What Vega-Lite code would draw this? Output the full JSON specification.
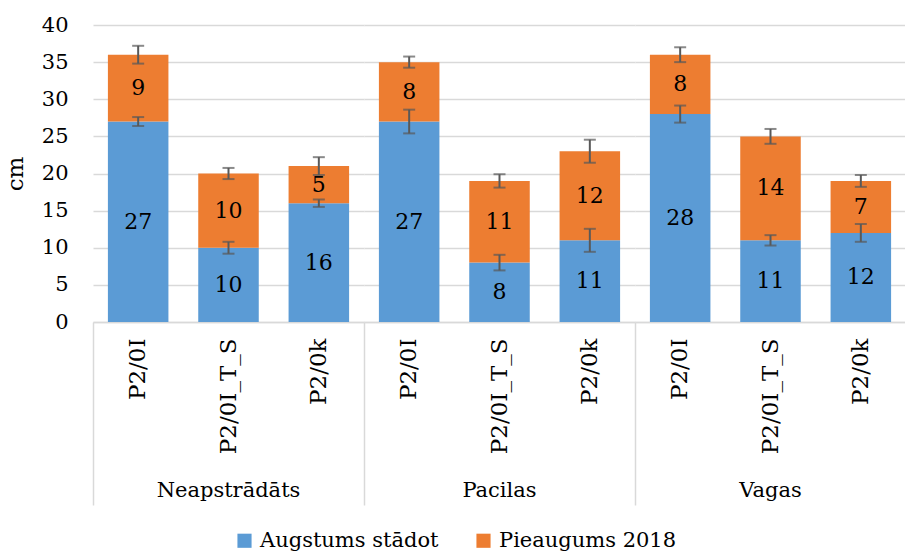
{
  "$schema": "https://vega.github.io/schema/vega-lite/v6.json",
  "padding": {"left": 4, "top": 14, "right": 0, "bottom": 0},
  "background": "white",
  "config": {
    "view": {"stroke": null},
    "font": "DejaVu Serif",
    "legend": {"layout": {"bottom": {"anchor": "middle"}}}
  },
  "data": {
    "values": [
      {"group": "Neapstrādāts", "cat": "P2/0I", "series": "Augstums stādot", "value": 27, "err": 0.6},
      {"group": "Neapstrādāts", "cat": "P2/0I", "series": "Pieaugums 2018", "value": 9, "err": 1.2},
      {"group": "Neapstrādāts", "cat": "P2/0I_T_S", "series": "Augstums stādot", "value": 10, "err": 0.8},
      {"group": "Neapstrādāts", "cat": "P2/0I_T_S", "series": "Pieaugums 2018", "value": 10, "err": 0.75},
      {"group": "Neapstrādāts", "cat": "P2/0k", "series": "Augstums stādot", "value": 16, "err": 0.5},
      {"group": "Neapstrādāts", "cat": "P2/0k", "series": "Pieaugums 2018", "value": 5, "err": 1.2},
      {"group": "Pacilas", "cat": "P2/0I", "series": "Augstums stādot", "value": 27, "err": 1.6},
      {"group": "Pacilas", "cat": "P2/0I", "series": "Pieaugums 2018", "value": 8, "err": 0.75},
      {"group": "Pacilas", "cat": "P2/0I_T_S", "series": "Augstums stādot", "value": 8, "err": 1.05},
      {"group": "Pacilas", "cat": "P2/0I_T_S", "series": "Pieaugums 2018", "value": 11, "err": 0.9},
      {"group": "Pacilas", "cat": "P2/0k", "series": "Augstums stādot", "value": 11, "err": 1.55},
      {"group": "Pacilas", "cat": "P2/0k", "series": "Pieaugums 2018", "value": 12, "err": 1.55},
      {"group": "Vagas", "cat": "P2/0I", "series": "Augstums stādot", "value": 28, "err": 1.15},
      {"group": "Vagas", "cat": "P2/0I", "series": "Pieaugums 2018", "value": 8, "err": 1.0},
      {"group": "Vagas", "cat": "P2/0I_T_S", "series": "Augstums stādot", "value": 11, "err": 0.7},
      {"group": "Vagas", "cat": "P2/0I_T_S", "series": "Pieaugums 2018", "value": 14, "err": 1.0},
      {"group": "Vagas", "cat": "P2/0k", "series": "Augstums stādot", "value": 12, "err": 1.2},
      {"group": "Vagas", "cat": "P2/0k", "series": "Pieaugums 2018", "value": 7, "err": 0.8}
    ]
  },
  "facet": {
    "column": {
      "field": "group",
      "type": "nominal",
      "sort": ["Neapstrādāts", "Pacilas", "Vagas"],
      "title": null,
      "header": {
        "labelOrient": "bottom",
        "labelFont": "DejaVu Serif",
        "labelFontSize": 21,
        "labelColor": "#000000",
        "labelPadding": -26
      }
    }
  },
  "spacing": 0,
  "spec": {
    "width": 271,
    "height": 297,
    "encoding": {
      "x": {
        "field": "cat",
        "type": "nominal",
        "sort": ["P2/0I", "P2/0I_T_S", "P2/0k"],
        "title": null,
        "scale": {"paddingInner": 0, "paddingOuter": 0},
        "axis": {
          "labelAngle": -90,
          "labelFont": "DejaVu Serif",
          "labelFontSize": 23,
          "labelColor": "#000000",
          "labelPadding": -167,
          "labelOverlap": false,
          "labelBound": false,
          "bandPosition": 0,
          "tickSize": 183,
          "tickWidth": 1.5,
          "tickColor": {"condition": {"test": "datum.value === 'P2/0I'", "value": "#d9d9d9"}, "value": "transparent"},
          "domainColor": "#d9d9d9",
          "domainWidth": 1.5
        }
      }
    },
    "layer": [
      {
        "mark": {"type": "bar", "width": {"band": 0.67}},
        "encoding": {
          "y": {
            "field": "value",
            "type": "quantitative",
            "stack": "zero",
            "scale": {"domain": [0, 40]},
            "title": "cm",
            "axis": {
              "values": [0, 5, 10, 15, 20, 25, 30, 35, 40],
              "grid": true,
              "gridColor": "#d9d9d9",
              "gridWidth": 1.5,
              "domain": false,
              "ticks": false,
              "labelFont": "DejaVu Serif",
              "labelFontSize": 21,
              "labelColor": "#000000",
              "labelPadding": 25,
              "titleFont": "DejaVu Serif",
              "titleFontSize": 23,
              "titleFontWeight": "normal",
              "titleColor": "#000000",
              "titlePadding": 14
            }
          },
          "color": {
            "field": "series",
            "type": "nominal",
            "scale": {"domain": ["Augstums stādot", "Pieaugums 2018"], "range": ["#5b9bd5", "#ed7d31"]},
            "legend": {
              "title": null,
              "orient": "bottom",
              "direction": "horizontal",
              "symbolType": "square",
              "symbolSize": 200,
              "symbolStrokeWidth": 0,
              "labelFont": "DejaVu Serif",
              "labelFontSize": 21,
              "labelColor": "#000000",
              "labelLimit": 0,
              "labelOffset": 5,
              "columnPadding": 34,
              "offset": 24
            }
          },
          "order": {"field": "series", "type": "nominal", "sort": "ascending"}
        }
      },
      {
        "mark": {"type": "text", "font": "DejaVu Serif", "fontSize": 22, "color": "#000000", "baseline": "middle"},
        "encoding": {
          "y": {
            "field": "value", "type": "quantitative", "stack": "zero", "bandPosition": 0.5,
            "title": "cm",
            "axis": {
              "values": [0, 5, 10, 15, 20, 25, 30, 35, 40],
              "grid": true,
              "gridColor": "#d9d9d9",
              "gridWidth": 1.5,
              "domain": false,
              "ticks": false,
              "labelFont": "DejaVu Serif",
              "labelFontSize": 21,
              "labelColor": "#000000",
              "labelPadding": 25,
              "titleFont": "DejaVu Serif",
              "titleFontSize": 23,
              "titleFontWeight": "normal",
              "titleColor": "#000000",
              "titlePadding": 14
            }
          },
          "detail": {"field": "series", "type": "nominal"},
          "order": {"field": "series", "type": "nominal", "sort": "ascending"},
          "text": {"field": "value", "type": "quantitative"}
        }
      },
      {
        "transform": [
          {"stack": "value", "groupby": ["group", "cat"], "sort": [{"field": "series", "order": "ascending"}], "as": ["y0", "y1"]}
        ],
        "mark": {"type": "errorbar", "ticks": {"size": 12}, "thickness": 2, "color": "#595959"},
        "encoding": {
          "y": {
            "field": "y1", "type": "quantitative",
            "title": "cm",
            "axis": {
              "values": [0, 5, 10, 15, 20, 25, 30, 35, 40],
              "grid": true,
              "gridColor": "#d9d9d9",
              "gridWidth": 1.5,
              "domain": false,
              "ticks": false,
              "labelFont": "DejaVu Serif",
              "labelFontSize": 21,
              "labelColor": "#000000",
              "labelPadding": 25,
              "titleFont": "DejaVu Serif",
              "titleFontSize": 23,
              "titleFontWeight": "normal",
              "titleColor": "#000000",
              "titlePadding": 14
            }
          },
          "yError": {"field": "err"}
        }
      }
    ]
  }
}
